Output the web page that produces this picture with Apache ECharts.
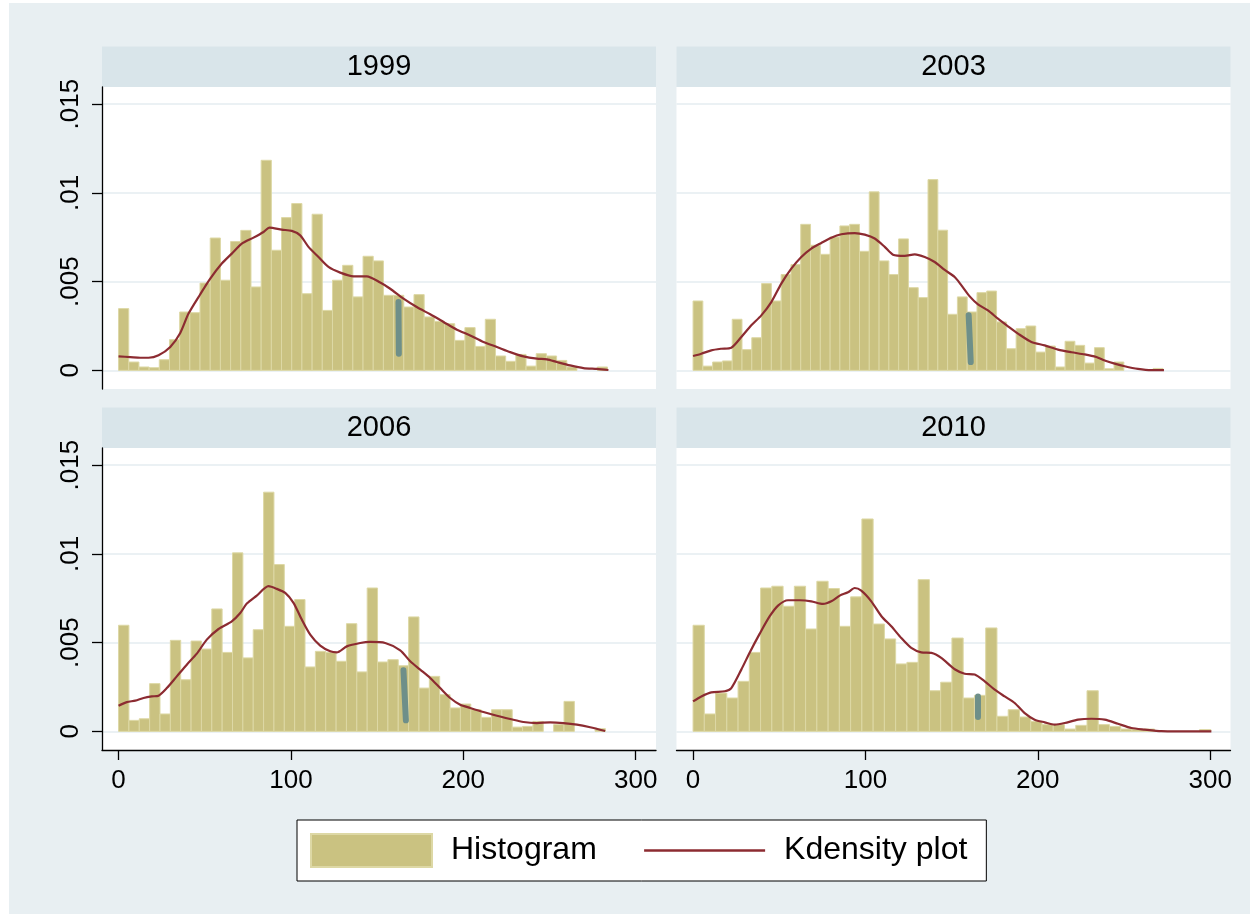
<!DOCTYPE html>
<html>
<head>
<meta charset="utf-8">
<title>Histogram and kdensity by year</title>
<script src="https://cdn.jsdelivr.net/npm/echarts@6/dist/echarts.min.js"></script>
<style>
  html, body { margin: 0; padding: 0; background: #fff; }
  #chart { width: 1254px; height: 918px; }
</style>
</head>
<body>
<div id="chart"></div>
<script>
// panel titles
const years = ["1999", "2003", "2006", "2010"];

// histogram bin widths (every panel starts at 0)
const binWidths = [5.91, 5.68, 6.01, 6.53];

// histogram densities, one value per bin
const hist1999 = [0.00348, 0.00047, 0.00019, 0.00015, 0.0006, 0.00173, 0.00329, 0.00325, 0.00492, 0.00746,
  0.00508, 0.00726, 0.00789, 0.0047, 0.01184, 0.00677, 0.00861, 0.0094, 0.00432, 0.0088,
  0.00338, 0.00508, 0.00592, 0.00414, 0.00643, 0.00617, 0.00423, 0.00423, 0.00357, 0.00427,
  0.00301, 0.00276, 0.00263, 0.00169, 0.00241, 0.00135, 0.00288, 0.00081, 0.00051, 0.0009,
  0.00024, 0.00094, 0.00081, 0.00056, 0.00019, 0, 0, 0.00019];
const hist2003 = [0.00391, 0.00024, 0.00047, 0.00053, 0.00288, 0.00117, 0.00184, 0.00489, 0.00391, 0.0054,
  0.00596, 0.00823, 0.00705, 0.00654, 0.00752, 0.00814, 0.00823, 0.00671, 0.01006, 0.00617,
  0.0054, 0.00741, 0.00466, 0.0041, 0.01075, 0.0079, 0.00316, 0.00414, 0.00329, 0.00438,
  0.00447, 0.00273, 0.00122, 0.00235, 0.0025, 0.00103, 0.00137, 0.00019, 0.00164, 0.00141,
  0.00041, 0.00128, 0.00009, 0.00047, 0, 0, 0, 0.00011];
const hist2006 = [0.00598, 0.00062, 0.00071, 0.00269, 0.00098, 0.00513, 0.00291, 0.00509, 0.00464, 0.0069,
  0.00445, 0.01006, 0.00414, 0.00573, 0.01348, 0.0094, 0.00592, 0.00743, 0.00363, 0.00451,
  0.00445, 0.00395, 0.00607, 0.00335, 0.00808, 0.00391, 0.00404, 0.0037, 0.00645, 0.00244,
  0.0031, 0.00207, 0.00132, 0.00154, 0.00122, 0.00079, 0.00122, 0.00122, 0.00024, 0.00028,
  0.00056, 0, 0.00038, 0.00169, 0, 0, 0.00015];
const hist2010 = [0.00598, 0.00098, 0.00216, 0.00188, 0.00282, 0.00445, 0.00808, 0.00818, 0.00705, 0.00818,
  0.00577, 0.00846, 0.00805, 0.00592, 0.00758, 0.01197, 0.00605, 0.00521, 0.0038, 0.00389,
  0.00855, 0.00229, 0.00277, 0.00526, 0.00188, 0.00203, 0.00583, 0.00085, 0.00122, 0.00081,
  0.00056, 0.00038, 0.00038, 0.00013, 0.00034, 0.00229, 0.00038, 0.00028, 0.00013, 0.0001,
  0.00013, 0, 0, 0, 0, 0.0001];

// kernel density curves, [x, density]
const kde1999 = [[0, 0.00079], [6.8, 0.00075], [12.6, 0.00071], [17.4, 0.00071], [23.2, 0.00085], [30, 0.00132],
  [35.8, 0.00211], [40.6, 0.0032], [47.4, 0.00429], [53.2, 0.00517], [59.9, 0.00602], [65.7, 0.00658],
  [71.5, 0.00714], [78.3, 0.00748], [84.1, 0.0078], [87.6, 0.00805], [94.7, 0.00793], [100.5, 0.00786],
  [105.4, 0.00761], [110.2, 0.00696], [116, 0.00639], [121.8, 0.00583], [128.6, 0.00551], [136.3, 0.0053],
  [144, 0.0053], [151.8, 0.00495], [157.6, 0.0046], [165.3, 0.00404], [173, 0.00357], [180.8, 0.00316],
  [188.5, 0.00273], [196.3, 0.00229], [204, 0.00197], [211.7, 0.0016], [219.5, 0.00132], [227.2, 0.00103],
  [234.9, 0.00079], [242.7, 0.00066], [248.5, 0.00062], [254.3, 0.00047], [262, 0.00028], [269.7, 0.00013],
  [277.5, 0.00008], [284.2, 0.00002]];
const kde2003 = [[0, 0.00081], [4.8, 0.00094], [10.6, 0.00113], [16.4, 0.00122], [22.2, 0.00128], [28, 0.00188],
  [33.8, 0.00254], [39.6, 0.0031], [45.4, 0.00385], [51.2, 0.00489], [57, 0.00573], [62.8, 0.00639],
  [68.6, 0.00686], [74.4, 0.00718], [80.2, 0.00748], [86, 0.00767], [93.8, 0.00774], [99.6, 0.00765],
  [105.4, 0.00743], [111.2, 0.00696], [116, 0.00652], [122.8, 0.00645], [128.6, 0.00654], [134.4, 0.00639],
  [140.2, 0.00611], [146, 0.00566], [151.8, 0.00526], [155.7, 0.00479], [160.5, 0.00417], [165.3, 0.00372],
  [171.1, 0.00338], [176.9, 0.00291], [182.7, 0.00248], [188.5, 0.00207], [196.3, 0.0016], [204, 0.00141],
  [211.7, 0.00117], [219.5, 0.00102], [227.2, 0.0009], [234, 0.00075], [238.8, 0.00056], [244.6, 0.00038],
  [250.4, 0.00023], [258.1, 0.00008], [265.9, 0.00001], [273.2, 0.00001]];
const kde2006 = [[0, 0.00145], [4.8, 0.00165], [9.7, 0.00173], [14.5, 0.00188], [19.3, 0.00197], [23.2, 0.00201],
  [28, 0.00244], [33.8, 0.0031], [39.6, 0.00376], [45.4, 0.00438], [51.2, 0.00517], [58, 0.00577],
  [65.7, 0.0062], [70.6, 0.00667], [74.4, 0.0072], [80.2, 0.00765], [87, 0.00818], [91.8, 0.00803],
  [96.7, 0.0078], [101.5, 0.00724], [106.3, 0.0063], [111.2, 0.00545], [117, 0.00483], [122.8, 0.00451],
  [126.6, 0.00445], [132.4, 0.00479], [140.2, 0.00498], [146, 0.00504], [154.7, 0.00498], [163.4, 0.00457],
  [169.2, 0.00395], [175, 0.00348], [180.8, 0.00301], [186.6, 0.00244], [192.4, 0.00188], [198.2, 0.0015],
  [204, 0.00132], [211.7, 0.00109], [219.5, 0.00088], [227.2, 0.0007], [234.9, 0.00053], [242.7, 0.00047],
  [250.4, 0.00051], [258.1, 0.00047], [265.9, 0.00038], [273.6, 0.00023], [282.3, 0.00002]];
const kde2010 = [[0, 0.00169], [4.8, 0.00197], [10.6, 0.0022], [18.4, 0.00226], [22.2, 0.00244], [28, 0.00348],
  [32.9, 0.00445], [38.7, 0.00551], [44.5, 0.00649], [49.3, 0.00709], [55.1, 0.00739], [61.9, 0.00739],
  [68.6, 0.00733], [75.4, 0.00718], [80.2, 0.00733], [85.1, 0.00765], [89.9, 0.00784], [93.8, 0.00808],
  [97.6, 0.00793], [103.4, 0.00733], [109.3, 0.00649], [115, 0.00592], [120.8, 0.00526], [126.6, 0.0047],
  [132.4, 0.00445], [138.3, 0.00442], [144, 0.00414], [151.8, 0.0035], [157.6, 0.00325], [163.4, 0.0032],
  [169.2, 0.00282], [175, 0.00235], [180.8, 0.00197], [186.6, 0.0016], [192.4, 0.00103], [198.2, 0.00066],
  [204, 0.00051], [209.8, 0.00038], [215.6, 0.00047], [223.3, 0.00066], [231.1, 0.00071], [238.8, 0.00066],
  [246.5, 0.00043], [254.3, 0.00019], [262, 0.0001], [271.7, 0.00001], [281.3, 0], [300.7, 0]];

// short grey-green marks, [x, density] for top and bottom end
const mark1999 = [[162.4, 0.00385], [162.6, 0.00094]];
const mark2003 = [[159.9, 0.0031], [161.1, 0.00047]];
const mark2006 = [[165.3, 0.00344], [166.7, 0.00062]];
const mark2010 = [[165.3, 0.00197], [165.3, 0.00081]];

// axis ticks
const xTicks = [0, 100, 200, 300];
const yTicks = [0, 0.005, 0.01, 0.015];

const hists = [hist1999, hist2003, hist2006, hist2010];
const kdes = [kde1999, kde2003, kde2006, kde2010];
const marks = [mark1999, mark2003, mark2006, mark2010];

const FONT = "'Liberation Sans', Arial, sans-serif";
const BAR_FILL = "#cac281";
const BAR_EDGE = "#ddd8a5";
const KDE_COLOR = "#8c2b31";
const MARK_COLOR = "#6e8f89";
const GRID_LINE = "#e5edf0";

// panel boxes (plot region incl. padding)
const panels = [
  { left: 102, top: 87 },
  { left: 676.5, top: 87 },
  { left: 102, top: 448 },
  { left: 676.5, top: 448 },
];
const PW = 554;
const PH = 302;
const STRIP_H = 40.5;

const chart = echarts.init(document.getElementById("chart"));

const histRender = (bw) => (params, api) => {
  const start = api.value(0);
  const h = api.value(1);
  if (!(h > 0)) return null;
  const p0 = api.coord([start, 0]);
  const p1 = api.coord([start + bw, h]);
  return {
    type: "rect",
    shape: { x: p0[0], y: p1[1], width: p1[0] - p0[0], height: p0[1] - p1[1] },
    style: { fill: BAR_FILL, stroke: BAR_EDGE, lineWidth: 1 },
  };
};

const yLabel = (v) => (v === 0 ? "0" : String(v).replace(/^0/, ""));

const grids = [];
const xAxes = [];
const yAxes = [];
const series = [];
const graphics = [
  // outer background
  { type: "rect", z: -100, shape: { x: 9, y: 3, width: 1241, height: 911 }, style: { fill: "#e8eff2" } },
];

panels.forEach((p, i) => {
  const isLeft = i % 2 === 0;
  const isBottom = i >= 2;

  grids.push({
    left: p.left, top: p.top, width: PW, height: PH,
    show: true, backgroundColor: "#fff", borderWidth: 0,
  });

  xAxes.push({
    gridIndex: i, type: "value", min: -9.6, max: 311.8,
    axisLine: { show: isBottom, onZero: false, lineStyle: { color: "#000", width: 1.3 } },
    axisTick: { show: isBottom, customValues: xTicks, length: 10, lineStyle: { color: "#000", width: 1.3 } },
    axisLabel: { show: isBottom, customValues: xTicks, margin: 18, fontSize: 26, fontFamily: FONT, color: "#000" },
    splitLine: { show: false },
  });

  yAxes.push({
    gridIndex: i, type: "value", min: -0.00105, max: 0.01597,
    axisLine: { show: isLeft, onZero: false, lineStyle: { color: "#000", width: 1.3 } },
    axisTick: { show: isLeft, customValues: yTicks, length: 10, lineStyle: { color: "#000", width: 1.3 } },
    axisLabel: {
      show: isLeft, customValues: yTicks, rotate: 90, margin: 18,
      fontSize: 26, fontFamily: FONT, color: "#000", formatter: yLabel,
    },
    splitLine: { show: true, lineStyle: { color: GRID_LINE, width: 1.5 } },
  });

  const bw = binWidths[i];
  series.push({
    name: "Histogram", type: "custom", xAxisIndex: i, yAxisIndex: i, z: 2,
    itemStyle: { color: BAR_FILL, borderColor: BAR_EDGE, borderWidth: 2 },
    renderItem: histRender(bw),
    encode: { x: 0, y: 1 },
    data: hists[i].map((v, k) => [k * bw, v]),
  });
  series.push({
    name: "mark", type: "line", xAxisIndex: i, yAxisIndex: i, z: 3,
    symbol: "none", silent: true,
    lineStyle: { color: MARK_COLOR, width: 6, cap: "round" },
    data: marks[i],
  });
  series.push({
    name: "Kdensity plot", type: "line", xAxisIndex: i, yAxisIndex: i, z: 4,
    symbol: "none", smooth: 0.25,
    itemStyle: { color: KDE_COLOR },
    lineStyle: { color: KDE_COLOR, width: 2.2 },
    data: kdes[i],
  });

  // title strip
  graphics.push({
    type: "rect", z: -50,
    shape: { x: p.left, y: p.top - STRIP_H, width: PW, height: STRIP_H },
    style: { fill: "#d9e5ea" },
  });
  graphics.push({
    type: "text", z: 10,
    x: p.left + PW / 2, y: p.top - STRIP_H / 2 + 0.5,
    style: {
      text: years[i], fontSize: 29, fontFamily: FONT, fill: "#000",
      textAlign: "center", textVerticalAlign: "middle",
    },
  });
});

chart.setOption({
  animation: false,
  grid: grids,
  xAxis: xAxes,
  yAxis: yAxes,
  series: series,
  graphic: graphics,
  legend: {
    data: [
      { name: "Histogram", icon: "rect" },
      { name: "Kdensity plot", itemStyle: { opacity: 0 }, lineStyle: { width: 2.6 } },
    ],
    left: 297, top: 820,
    orient: "horizontal",
    itemWidth: 121, itemHeight: 33, itemGap: 46,
    padding: [13, 19, 13, 13],
    backgroundColor: "#fff", borderColor: "#000", borderWidth: 1, borderRadius: 0,
    selectedMode: false,
    textStyle: { fontSize: 32, fontFamily: FONT, color: "#000", padding: [0, 0, 0, 14] },
  },
});
</script>
</body>
</html>
